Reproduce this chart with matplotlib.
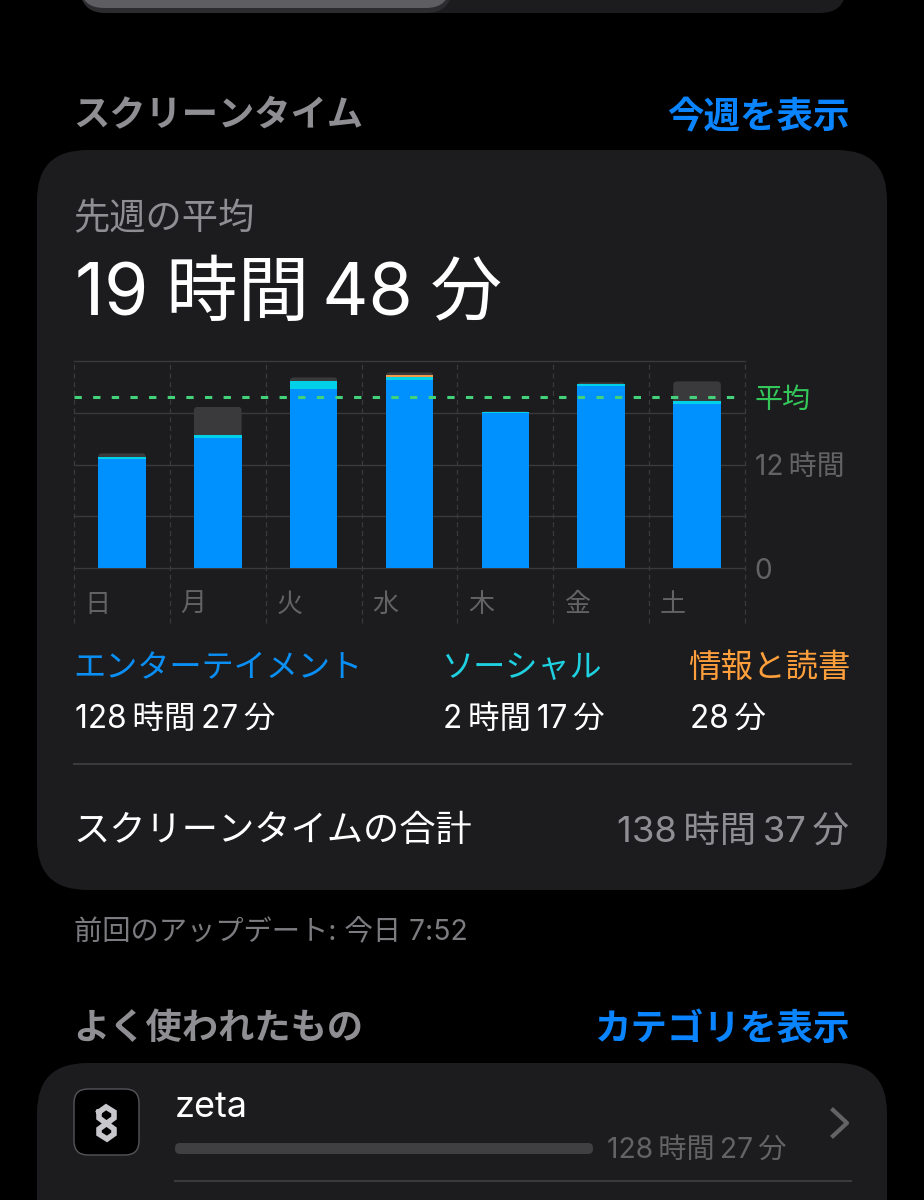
import numpy as np
import matplotlib
matplotlib.use("Agg")
import matplotlib.pyplot as plt
from matplotlib.patches import FancyBboxPatch

days = ["日", "月", "火", "水", "木", "金", "土"]
entertainment = [12.65, 15.08, 20.75, 21.80, 17.94, 21.13, 19.02]
social = [0.23, 0.38, 0.89, 0.38, 0.15, 0.17, 0.34]
info = [0.03, 0.0, 0.0, 0.19, 0.0, 0.03, 0.0]
other = [0.40, 3.24, 0.46, 0.31, 0.08, 0.20, 2.28]
average = 19.8
grid_hours = [0, 6, 12, 18, 24]
ytick_vals = [0, 12, average]
ytick_labels = ["0", "12\u2009時間", "平均"]

W, H = 924, 1200
CJK = ["Inter", "Noto Sans CJK JP", "DejaVu Sans"]
plt.rcParams["font.family"] = CJK

BG = "#000000"; CARD = "#1C1C1E"; SEP = "#3A3A3C"; G1 = "#8E8E93"; G2 = "#636366"
BLUE = "#0091FF"; CYAN = "#00D0E8"; ORANGE = "#F2994A"; OTHER = "#3A3A3C"; GREEN = "#34C85A"

fig = plt.figure(figsize=(W / 100, H / 100), dpi=100, facecolor=BG)
ui = fig.add_axes([0, 0, 1, 1], zorder=0)
ui.set_xlim(0, W); ui.set_ylim(H, 0); ui.axis("off")


def card(x0, y0, x1, y1, r, color):
    ui.add_patch(FancyBboxPatch((x0, y0), x1 - x0, y1 - y0,
                                boxstyle=f"round,pad=0,rounding_size={r}",
                                fc=color, ec="none"))


def T(x, y, s, px, color, ha="left", weight="normal"):
    ui.text(x, y + 3.5, s, fontsize=px * 0.72, color=color, ha=ha, va="center", fontweight=weight)


# top remnant
card(80, -60, 846, 13, 26, CARD)
card(80, -60, 452, 13, 26, "#2C2C2E")
card(80, -60, 450, 8, 24, "#5E5E62")

card(37, 150, 887, 890, 50, CARD)
card(37, 1063, 887, 1300, 50, CARD)

T(73.5, 113, "スクリーンタイム", 36.3, G1, weight="bold")
T(850, 113, "今週を表示", 36.5, "#0A84FF", ha="right", weight="bold")
T(73.5, 216, "先週の平均", 36.3, G1)
T(75, 292, "19\u2005時間\u200948\u2005分", 71.5, "white")

T(73.5, 665, "エンターテイメント", 32.2, "#0A8FF5")
T(441.5, 665, "ソーシャル", 32.2, "#1FD0E0")
T(688.5, 665, "情報と読書", 32.5, "#FF9F3C")
T(75, 716, "128\u2009時間\u200927\u2009分", 31.5, "white")
T(443, 716, "2\u2009時間\u200917\u2009分", 31.5, "white")
T(690, 716, "28\u2009分", 31.5, "white")
ui.plot([74, 851], [764, 764], color=SEP, lw=1.5)
T(73.5, 828, "スクリーンタイムの合計", 36.3, "white")
T(849, 828, "138\u2009時間\u200937\u2009分", 36.4, G1, ha="right")
T(74.5, 928.5, "前回のアップデート: 今日 7:52", 28.3, "#7C7C80")
T(73.5, 1026, "よく使われたもの", 36.3, G1, weight="bold")
T(850, 1026, "カテゴリを表示", 36.5, "#0A84FF", ha="right", weight="bold")

# list row
ui.add_patch(FancyBboxPatch((74, 1089), 65, 66, boxstyle="round,pad=0,rounding_size=14",
                            fc="black", ec="#55555A", lw=1))
logo = [(99, 1112), (106, 1107), (114, 1112), (114, 1118), (99, 1129), (99, 1134),
        (107, 1139), (114, 1134), (114, 1129), (99, 1118), (99, 1112)]
ui.plot(*zip(*logo), color="#C8C8CC", lw=4, solid_joinstyle="miter")
T(175, 1104, "zeta", 36, "white")
card(175, 1143, 593, 1154, 5, "#404042")
T(607, 1147, "128\u2009時間\u200927\u2009分", 28.2, G2)
ui.plot([175, 851], [1181, 1181], color=SEP, lw=1.5)
ui.plot([833, 847, 833], [1110, 1123, 1136], color=G2, lw=3)

# chart
L, R, TOP, BOT = 74, 745, 361, 568.3
ax = fig.add_axes([L / W, 1 - BOT / H, (R - L) / W, (BOT - TOP) / H], zorder=1)
ax.patch.set_alpha(0)
for s in ax.spines.values():
    s.set_visible(False)
ax.set_xlim(0, 7); ax.set_ylim(0, 24)
x = np.arange(7) + 0.5
bw = 0.497

for h in grid_hours:
    ax.axhline(h, color=SEP, lw=1.0, zorder=1, clip_on=False)
ax.vlines(np.arange(8), -6.35, 24, color=SEP, lw=0.9, linestyles=(0, (4, 3)), zorder=1, clip_on=False)

ent = np.array(entertainment); soc = np.array(social); inf = np.array(info); oth = np.array(other)
ax.bar(x, ent, bw, color=BLUE, zorder=3)
ax.bar(x, soc, bw, bottom=ent, color=CYAN, zorder=3)
ax.bar(x, inf, bw, bottom=ent + soc, color=ORANGE, zorder=3)
tops = ent + soc + inf + oth
others = ax.bar(x, oth, bw, bottom=ent + soc + inf, color=OTHER, zorder=2)
for b, xc, t in zip(others, x, tops):
    clip = FancyBboxPatch((xc - bw / 2, 0), bw, t, boxstyle="round,pad=0,rounding_size=0.04",
                          mutation_aspect=11, transform=ax.transData)
    b.set_clip_path(clip)

ax.axhline(average, color="#43D17A", lw=2.2, linestyle=(0, (2.4, 3.7)), dash_capstyle="butt", zorder=4)

ax.set_xticks(x - 0.255, days, fontsize=26 * 0.72, color=G2)
ax.tick_params(axis="x", length=0, pad=17)
ax.yaxis.tick_right()
ax.set_yticks(ytick_vals, ytick_labels, fontsize=28 * 0.72)
ax.tick_params(axis="y", length=0, pad=7)
for lab, c in zip(ax.get_yticklabels(), [G2, G2, GREEN]):
    lab.set_color(c)

fig.savefig("out.png", dpi=100, facecolor=BG)
